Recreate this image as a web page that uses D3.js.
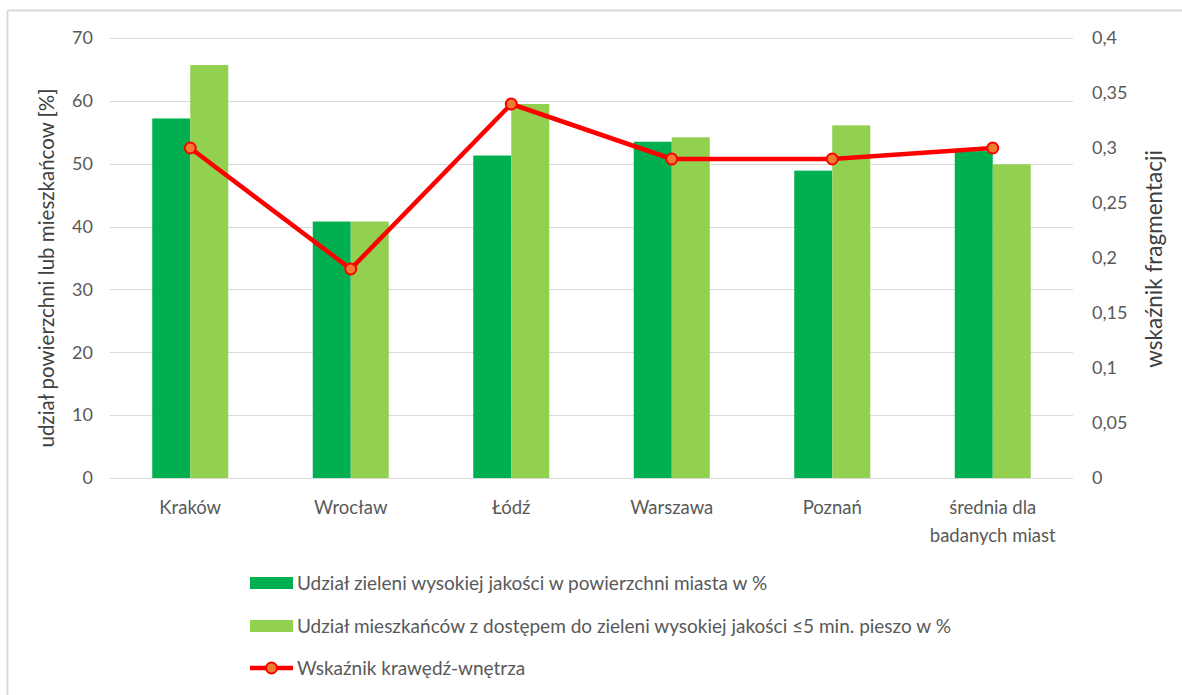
<!DOCTYPE html>
<html>
<head>
<meta charset="utf-8">
<script src="https://cdn.jsdelivr.net/npm/d3@7"></script>
<style>
  body { margin: 0; background: #fff; }
  svg { display: block; font-family: Lato, "Open Sans", sans-serif; }
</style>
</head>
<body>
<div id="chart"></div>
<script>
// data
const cities = ["Kraków", "Wrocław", "Łódź", "Warszawa", "Poznań", "średnia dla|badanych miast"];
const greenShare = [57.2, 40.8, 51.3, 53.5, 48.9, 52.0];
const residentsAccess = [65.7, 40.8, 59.5, 54.2, 56.1, 49.9];
const edgeIndex = [0.30, 0.19, 0.34, 0.29, 0.29, 0.30];
const leftTicks = [0, 10, 20, 30, 40, 50, 60, 70];
const rightTicks = [0, 0.05, 0.1, 0.15, 0.2, 0.25, 0.3, 0.35, 0.4];
const legendLabels = [
  "Udział zieleni wysokiej jakości w powierzchni miasta w %",
  "Udział mieszkańców z dostępem do zieleni wysokiej jakości ≤5 min. pieszo w %",
  "Wskaźnik krawędź-wnętrza"
];

const W = 1182, H = 695;
const margin = { left: 110, right: 1073, top: 38, bottom: 478 };
const darkGreen = "#00b050", lightGreen = "#92d050", red = "#ff0000", orange = "#ee7d31";
const textColor = "#595959";

const svg = d3.select("#chart").append("svg").attr("width", W).attr("height", H);

// frame (top + left edges visible)
svg.append("line").attr("x1", 7.5).attr("x2", W).attr("y1", 10.5).attr("y2", 10.5)
  .attr("stroke", "#d9d9d9").attr("stroke-width", 2);
svg.append("line").attr("x1", 7.5).attr("x2", 7.5).attr("y1", 10.5).attr("y2", H)
  .attr("stroke", "#d9d9d9").attr("stroke-width", 2);

const x = d3.scaleBand().domain(cities).range([margin.left, margin.right]);
const y = d3.scaleLinear().domain([0, 70]).range([margin.bottom, margin.top]);
const y2 = d3.scaleLinear().domain([0, 0.4]).range([margin.bottom, margin.top]);

// gridlines
svg.append("g").selectAll("line").data(leftTicks).join("line")
  .attr("x1", margin.left).attr("x2", margin.right)
  .attr("y1", d => Math.round(y(d)) + 0.5).attr("y2", d => Math.round(y(d)) + 0.5)
  .attr("stroke", "#d9d9d9").attr("stroke-width", 1.2);

// left ticks
svg.append("g").selectAll("text").data(leftTicks).join("text")
  .attr("x", 93).attr("y", d => y(d)).attr("dy", "0.35em")
  .attr("text-anchor", "end").attr("fill", textColor).attr("font-size", "18px")
  .text(d => d);

// right ticks
const fmtComma = d => String(+d.toFixed(2)).replace(".", ",");
svg.append("g").selectAll("text").data(rightTicks).join("text")
  .attr("x", 1092).attr("y", d => y2(d)).attr("dy", "0.35em")
  .attr("text-anchor", "start").attr("fill", textColor).attr("font-size", "18px")
  .text(fmtComma);

// bars
const barW = 38;
const bars = svg.append("g");
cities.forEach((c, i) => {
  const cx = x(c) + x.bandwidth() / 2;
  bars.append("rect")
    .attr("x", cx - barW).attr("width", barW)
    .attr("y", y(greenShare[i])).attr("height", y(0) - y(greenShare[i]))
    .attr("fill", darkGreen);
  bars.append("rect")
    .attr("x", cx).attr("width", barW)
    .attr("y", y(residentsAccess[i])).attr("height", y(0) - y(residentsAccess[i]))
    .attr("fill", lightGreen);
});

// line
const line = d3.line()
  .x((d, i) => x(cities[i]) + x.bandwidth() / 2)
  .y(d => y2(d));
svg.append("path").datum(edgeIndex).attr("d", line)
  .attr("fill", "none").attr("stroke", red).attr("stroke-width", 4.5)
  .attr("stroke-linejoin", "round");
svg.append("g").selectAll("circle").data(edgeIndex).join("circle")
  .attr("cx", (d, i) => x(cities[i]) + x.bandwidth() / 2)
  .attr("cy", d => y2(d))
  .attr("r", 5.5).attr("fill", orange).attr("stroke", red).attr("stroke-width", 2);

// category labels
cities.forEach(c => {
  const lines = c.split("|");
  const t = svg.append("text")
    .attr("x", x(c) + x.bandwidth() / 2).attr("y", 514)
    .attr("text-anchor", "middle").attr("fill", textColor).attr("font-size", "18.5px");
  lines.forEach((l, k) => {
    t.append("tspan").attr("x", x(c) + x.bandwidth() / 2).attr("dy", k === 0 ? 0 : 28).text(l);
  });
});

// axis titles
svg.append("text")
  .attr("transform", `translate(54,${(margin.top + margin.bottom) / 2 + 10}) rotate(-90)`)
  .attr("text-anchor", "middle").attr("fill", "#404040").attr("font-size", "20.5px")
  .text("udział powierzchni lub mieszkańcow [%]");
svg.append("text")
  .attr("transform", `translate(1162,${(margin.top + margin.bottom) / 2 + 1}) rotate(-90)`)
  .attr("text-anchor", "middle").attr("fill", "#404040").attr("font-size", "22.5px")
  .text("wskaźnik fragmentacji");

// legend
const legendY = [583, 626, 668];
const lg = svg.append("g");
legendLabels.forEach((lab, i) => {
  if (i < 2) {
    lg.append("rect").attr("x", 250).attr("y", legendY[i] - 6).attr("width", 43).attr("height", 12)
      .attr("fill", i === 0 ? darkGreen : lightGreen);
  } else {
    lg.append("line").attr("x1", 250).attr("x2", 293).attr("y1", legendY[i]).attr("y2", legendY[i])
      .attr("stroke", red).attr("stroke-width", 4.5);
    lg.append("circle").attr("cx", 271.5).attr("cy", legendY[i]).attr("r", 5.5)
      .attr("fill", orange).attr("stroke", red).attr("stroke-width", 2);
  }
  lg.append("text").attr("x", 297).attr("y", legendY[i]).attr("dy", "0.35em")
    .attr("fill", textColor).attr("font-size", "19px").text(lab);
});
</script>
</body>
</html>
